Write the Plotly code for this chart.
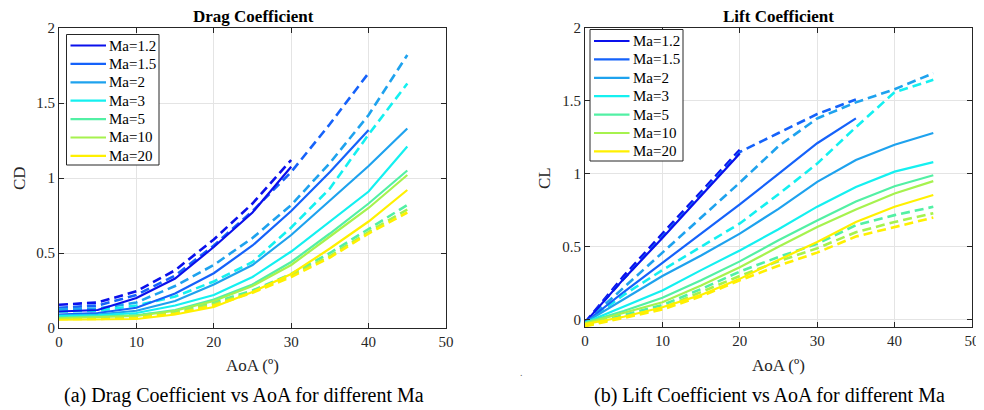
import plotly.graph_objects as go

# ---------------- data ----------------
aoa = [0, 5, 10, 15, 20, 25, 30, 35, 40, 45]
mach_labels = ["Ma=1.2", "Ma=1.5", "Ma=2", "Ma=3", "Ma=5", "Ma=10", "Ma=20"]
colors = ["#0a10ec", "#1562fa", "#1ea2ee", "#14f0f0", "#52f0a4", "#a6f24e", "#fff000"]

# Drag coefficient, solid lines
cd_solid_12 = [0.11, 0.12, 0.20, 0.33, 0.54, 0.77, 1.075]
cd_solid_15 = [0.09, 0.10, 0.135, 0.23, 0.365, 0.55, 0.78, 1.04, 1.32]
cd_solid_2 = [0.085, 0.09, 0.115, 0.18, 0.29, 0.42, 0.62, 0.85, 1.08, 1.33]
cd_solid_3 = [0.08, 0.085, 0.10, 0.15, 0.22, 0.34, 0.51, 0.71, 0.91, 1.21]
cd_solid_5 = [0.07, 0.075, 0.085, 0.12, 0.19, 0.29, 0.44, 0.63, 0.83, 1.05]
cd_solid_10 = [0.065, 0.07, 0.08, 0.115, 0.18, 0.28, 0.42, 0.61, 0.80, 1.02]
cd_solid_20 = [0.055, 0.055, 0.06, 0.09, 0.14, 0.24, 0.36, 0.53, 0.71, 0.92]

# Drag coefficient, dashed lines
cd_dash_12 = [0.155, 0.17, 0.245, 0.385, 0.59, 0.83, 1.12]
cd_dash_15 = [0.135, 0.15, 0.22, 0.35, 0.55, 0.78, 1.04, 1.36, 1.70]
cd_dash_2 = [0.125, 0.13, 0.17, 0.28, 0.42, 0.60, 0.82, 1.10, 1.42, 1.82]
cd_dash_3 = [0.11, 0.115, 0.15, 0.21, 0.31, 0.44, 0.67, 0.93, 1.29, 1.63]
cd_dash_5 = [0.075, 0.075, 0.085, 0.11, 0.17, 0.25, 0.36, 0.50, 0.66, 0.82]
cd_dash_10 = [0.065, 0.065, 0.075, 0.10, 0.16, 0.24, 0.35, 0.48, 0.64, 0.79]
cd_dash_20 = [0.06, 0.06, 0.07, 0.095, 0.15, 0.235, 0.34, 0.47, 0.63, 0.77]

# Lift coefficient, solid lines
cl_solid_12 = [-0.02, 0.28, 0.56, 0.85, 1.14]
cl_solid_15 = [-0.02, 0.19, 0.39, 0.59, 0.79, 1.00, 1.21, 1.38]
cl_solid_2 = [-0.02, 0.14, 0.30, 0.44, 0.59, 0.76, 0.945, 1.095, 1.20, 1.28]
cl_solid_3 = [-0.02, 0.09, 0.20, 0.34, 0.475, 0.62, 0.775, 0.91, 1.015, 1.08]
cl_solid_5 = [-0.02, 0.06, 0.15, 0.27, 0.40, 0.545, 0.68, 0.81, 0.915, 0.99]
cl_solid_10 = [-0.025, 0.05, 0.12, 0.235, 0.36, 0.50, 0.635, 0.755, 0.865, 0.95]
cl_solid_20 = [-0.03, 0.02, 0.085, 0.17, 0.28, 0.41, 0.533, 0.67, 0.775, 0.855]

# Lift coefficient, dashed lines
cl_dash_12 = [-0.02, 0.30, 0.59, 0.88, 1.165]
cl_dash_15 = [-0.02, 0.28, 0.57, 0.86, 1.15, 1.28, 1.41, 1.51]
cl_dash_2 = [-0.02, 0.22, 0.46, 0.70, 0.94, 1.19, 1.38, 1.49, 1.58, 1.69]
cl_dash_3 = [-0.02, 0.17, 0.34, 0.50, 0.66, 0.86, 1.07, 1.32, 1.56, 1.645]
cl_dash_5 = [-0.035, 0.03, 0.10, 0.21, 0.33, 0.43, 0.52, 0.648, 0.717, 0.774]
cl_dash_10 = [-0.04, 0.02, 0.08, 0.19, 0.30, 0.40, 0.49, 0.60, 0.67, 0.73]
cl_dash_20 = [-0.045, 0.01, 0.07, 0.16, 0.27, 0.37, 0.46, 0.57, 0.636, 0.70]

x_ticks = [0, 10, 20, 30, 40, 50]
y_ticks = [0, 0.5, 1, 1.5, 2]
y_tick_text = ["0", "0.5", "1", "1.5", "2"]

cd_solid = [cd_solid_12, cd_solid_15, cd_solid_2, cd_solid_3, cd_solid_5, cd_solid_10, cd_solid_20]
cd_dash = [cd_dash_12, cd_dash_15, cd_dash_2, cd_dash_3, cd_dash_5, cd_dash_10, cd_dash_20]
cl_solid = [cl_solid_12, cl_solid_15, cl_solid_2, cl_solid_3, cl_solid_5, cl_solid_10, cl_solid_20]
cl_dash = [cl_dash_12, cl_dash_15, cl_dash_2, cl_dash_3, cl_dash_5, cl_dash_10, cl_dash_20]

# ---------------- figure ----------------
# page body has an 8px margin; figure is sized so it fills the 984x410 window
OFF = 8
W, H = 984 - OFF, 410 - OFF
FONT = "Liberation Serif"
INK = "#262626"

fig = go.Figure()

def add_panel(solid, dash, xa, ya):
    for i in range(len(mach_labels)):
        fig.add_trace(go.Scatter(
            x=aoa[:len(dash[i])], y=dash[i], mode="lines",
            line=dict(color=colors[i], width=2.6, dash="9px,5px"),
            showlegend=False, xaxis=xa, yaxis=ya, hoverinfo="skip"))
    for i in range(len(mach_labels)):
        fig.add_trace(go.Scatter(
            x=aoa[:len(solid[i])], y=solid[i], mode="lines",
            line=dict(color=colors[i], width=2.2),
            name=mach_labels[i], showlegend=False, xaxis=xa, yaxis=ya))

add_panel(cd_solid, cd_dash, "x", "y")
add_panel(cl_solid, cl_dash, "x2", "y2")

def px_x(p):
    return (p - OFF) / W

def px_y(p):
    return 1 - (p - OFF) / H

axis_common = dict(
    showline=True, linecolor=INK, linewidth=1, mirror="ticks",
    ticks="inside", ticklen=5, tickcolor=INK, tickwidth=1,
    showgrid=True, gridcolor="#e4e4e4", gridwidth=1, zeroline=False,
    automargin=False,
    tickfont=dict(family=FONT, size=15, color=INK),
)

fig.update_layout(
    width=W, height=H,
    margin=dict(l=0, r=0, t=0, b=0),
    paper_bgcolor="white", plot_bgcolor="white",
    font=dict(family=FONT, color=INK),
    showlegend=False,
    xaxis=dict(domain=[px_x(59), px_x(446)], range=[0, 50], tickvals=x_ticks, anchor="y", **axis_common),
    yaxis=dict(domain=[px_y(328), px_y(28)], range=[0, 2], tickvals=y_ticks, ticktext=y_tick_text, anchor="x", **axis_common),
    xaxis2=dict(domain=[px_x(585), px_x(972)], range=[0, 50], tickvals=x_ticks, anchor="y2", **axis_common),
    yaxis2=dict(domain=[px_y(327), px_y(28)], range=[-0.05, 2], tickvals=y_ticks, ticktext=y_tick_text, anchor="x2", **axis_common),
)

annotations = [
    dict(text="<b>Drag Coefficient</b>", x=px_x(253.5), y=px_y(6), yanchor="top", borderpad=0, font=dict(size=17, color="black")),
    dict(text="<b>Lift Coefficient</b>", x=px_x(778.5), y=px_y(6), yanchor="top", borderpad=0, font=dict(size=17, color="black")),
    dict(text="CD", x=px_x(20), y=px_y(178), textangle=-90, font=dict(size=17, color=INK)),
    dict(text="CL", x=px_x(545), y=px_y(178), textangle=-90, font=dict(size=17, color=INK)),
    dict(text="AoA (º)", x=px_x(252.5), y=px_y(365), font=dict(size=17, color=INK)),
    dict(text="AoA (º)", x=px_x(778.5), y=px_y(365), font=dict(size=17, color=INK)),
    dict(text="(a) Drag Coefficient vs AoA for different Ma", x=px_x(244), y=px_y(395), font=dict(size=20, color="black")),
    dict(text="(b) Lift Coefficient vs AoA for different Ma", x=px_x(769), y=px_y(395), font=dict(size=20, color="black")),
    dict(text=".", x=px_x(521), y=px_y(372), font=dict(size=10, color="#666666")),
]
for a in annotations:
    a.update(xanchor="center")
    a.setdefault("yanchor", "middle")

shapes = []

# custom MATLAB-style legends (box, line samples, labels)
def add_legend(box_l, box_t, box_r, box_b, line_l, line_r, text_l, first_y, step):
    shapes.append(dict(type="rect", xref="paper", yref="paper",
                       x0=px_x(box_l), x1=px_x(box_r), y0=px_y(box_b), y1=px_y(box_t),
                       line=dict(color=INK, width=1), fillcolor="white", layer="above"))
    for i, lab in enumerate(mach_labels):
        yy = first_y + i * step
        shapes.append(dict(type="line", xref="paper", yref="paper",
                           x0=px_x(line_l), x1=px_x(line_r), y0=px_y(yy), y1=px_y(yy),
                           line=dict(color=colors[i], width=2.2), layer="above"))
        annotations.append(dict(text=lab, x=px_x(text_l), y=px_y(yy), xanchor="left",
                                yanchor="middle", font=dict(size=15, color="black")))

add_legend(66.5, 34.5, 159, 165, 70.5, 106, 107, 45.5, 18.4)
add_legend(590, 29.5, 683, 161, 594, 629.5, 631, 41.0, 18.4)

for a in annotations:
    a.update(xref="paper", yref="paper", showarrow=False)
    a["font"]["family"] = FONT

fig.update_layout(annotations=annotations, shapes=shapes)

fig.write_html("out.html")
